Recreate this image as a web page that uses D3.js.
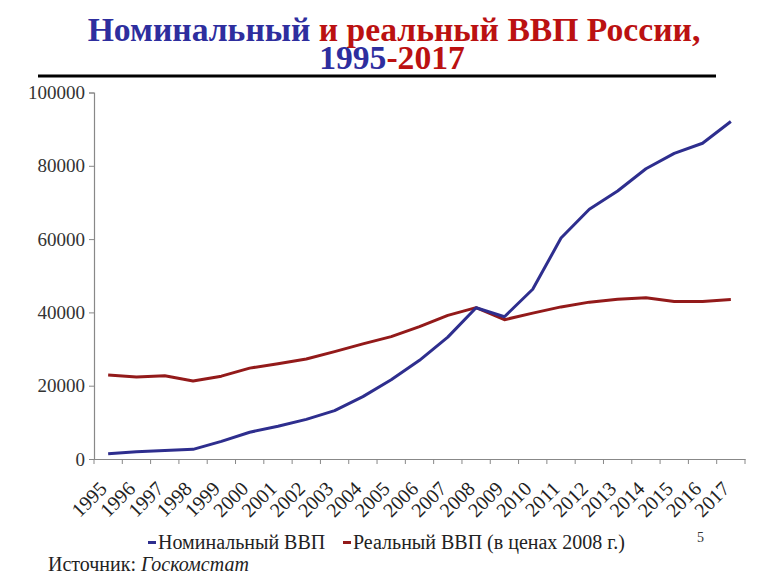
<!DOCTYPE html>
<html><head><meta charset="utf-8">
<script src="https://cdn.jsdelivr.net/npm/d3@7"></script>
</head>
<body style="margin:0;padding:0;background:#fff;">
<svg id="c" width="768" height="576" style="display:block"></svg>
<script>
const years = ["1995","1996","1997","1998","1999","2000","2001","2002","2003","2004","2005","2006","2007","2008","2009","2010","2011","2012","2013","2014","2015","2016","2017"];
const nominalGDP = [1430, 2010, 2340, 2630, 4820, 7310, 8940, 10820, 13210, 17030, 21610, 26920, 33250, 41280, 38810, 46310, 60280, 68160, 73130, 79200, 83390, 86150, 92100];
const realGDP = [22900, 22400, 22700, 21300, 22600, 24800, 26000, 27300, 29300, 31400, 33400, 36100, 39200, 41300, 38000, 39800, 41500, 42800, 43600, 44000, 43000, 43000, 43500];
const yTicks = [0, 20000, 40000, 60000, 80000, 100000];
const seriesNames = ["Номинальный ВВП", "Реальный ВВП (в ценах 2008 г.)"];
const titleParts1 = ["Номинальный", " и реальный ВВП России,"];
const titleParts2 = ["1995", "-2017"];

const FONT = "Times New Roman";
const BLUE = "#2e2e8e", RED = "#931a1a";
const T_BLUE = "#2e2e9e", T_RED = "#bb1111";
const svg = d3.select("#c");

function addText(parent, str, xx, yy, fs, fill, extra) {
  const t = parent.append("text").attr("x", xx).attr("y", yy)
    .attr("font-family", FONT).attr("font-size", fs).attr("fill", fill);
  if (extra) Object.entries(extra).forEach(([k, v]) => t.attr(k, v));
  t.text(str);
  return t;
}

// Title: two lines, each made of two coloured pieces
function titleLine(parts, colors, cx, yb, fs) {
  const els = parts.map((p, i) => addText(svg, p.trim(), 0, yb, fs, colors[i], {"font-weight": "bold"}));
  const space = fs * 0.25;
  const w = els.map(e => e.node().getComputedTextLength());
  const gap = parts[1].startsWith(" ") ? space : 0;
  let xx = cx - (d3.sum(w) + gap) / 2;
  els[0].attr("x", xx);
  els[1].attr("x", xx + w[0] + gap);
}
const probe = addText(svg, titleParts1.join(""), 0, -50, 33, "#000", {"font-weight": "bold"});
const pw = probe.node().getComputedTextLength();
probe.remove();
const tfs = Math.min(36, 33 * 613 / pw);
titleLine(titleParts1, [T_BLUE, T_RED], 394, 41, tfs);
titleLine(titleParts2, [T_BLUE, T_RED], 392, 69, tfs);
svg.append("line").attr("x1",38).attr("x2",716).attr("y1",76).attr("y2",76)
  .attr("stroke","#000").attr("stroke-width",3);

// Scales
const x = d3.scaleBand().domain(years).range([94, 745]);
const y = d3.scaleLinear().domain([0, 100000]).range([459, 92.5]);

// Y axis
const yAxis = svg.append("g").attr("transform","translate(94,0)")
  .call(d3.axisLeft(y).tickValues(yTicks).tickSize(5).tickPadding(4).tickFormat(d3.format("d")));
yAxis.attr("font-family", FONT);
yAxis.select(".domain").attr("stroke","#888").attr("stroke-width",1.2);
yAxis.selectAll(".tick line").attr("stroke","#888");
yAxis.selectAll(".tick text").attr("font-family", FONT).attr("font-size",19).attr("fill","#333");

// X axis
const xAxis = svg.append("g").attr("transform","translate(0,459)")
  .call(d3.axisBottom(x).tickSize(0).tickFormat(d=>d));
xAxis.attr("font-family", FONT);
xAxis.select(".domain").attr("stroke","#888").attr("stroke-width",1.2);
const bounds = years.map(d => x(d)).concat([x.range()[1]]);
svg.append("g").selectAll("line").data(bounds).join("line")
  .attr("x1", d=>d).attr("x2", d=>d).attr("y1", 459).attr("y2", 464)
  .attr("stroke","#888");
xAxis.selectAll(".tick text")
  .attr("font-family", FONT).attr("font-size",20).attr("fill","#222")
  .attr("text-anchor","end")
  .attr("transform", "translate(0,31) rotate(-45)")
  .attr("dy", null).attr("y",0).attr("x",0);

// Lines
const line = d3.line().x((d,i)=>x(years[i]) + x.bandwidth()/2).y(d=>y(d));
svg.append("path").datum(realGDP).attr("d", line).attr("fill","none")
  .attr("stroke", RED).attr("stroke-width", 3).attr("stroke-linejoin","round");
svg.append("path").datum(nominalGDP).attr("d", line).attr("fill","none")
  .attr("stroke", BLUE).attr("stroke-width", 3).attr("stroke-linejoin","round");

// Legend
const legItems = [{name: seriesNames[0], color: BLUE, x: 148}, {name: seriesNames[1], color: RED, x: 343}];
legItems.forEach(it => {
  svg.append("rect").attr("x", it.x).attr("y", 541).attr("width", 8).attr("height", 3).attr("fill", it.color);
  addText(svg, it.name, it.x + 10, 549, 20, "#222");
});
addText(svg, "5", 697, 542, 14, "#333");

// Source
const s1 = addText(svg, "Источник:", 48, 571, 20, "#222");
const s1w = s1.node().getComputedTextLength();
addText(svg, "Госкомстат", 48 + s1w + 5, 571, 20, "#222", {"font-style": "italic"});
</script>
</body></html>
